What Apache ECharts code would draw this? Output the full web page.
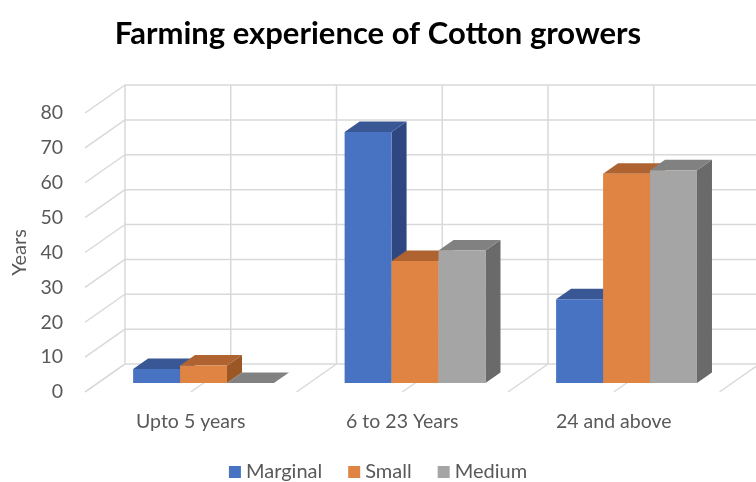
<!DOCTYPE html>
<html>
<head>
<meta charset="utf-8">
<style>
  html, body { margin: 0; padding: 0; background: #ffffff; }
  #chart { width: 756px; height: 482px; }
</style>
<script src="https://cdn.jsdelivr.net/npm/echarts@6/dist/echarts.min.js"></script>
</head>
<body>
<div id="chart"></div>
<script>
// Farming experience of cotton growers, by farm size class
const categories = ['Upto 5 years', '6 to 23 Years', '24 and above'];
const seriesNames = ['Marginal', 'Small', 'Medium'];
const marginal = [4, 72, 24];
const small = [5, 35, 60];
const medium = [0, 38, 61];
const yTicks = [0, 10, 20, 30, 40, 50, 60, 70, 80];

// Face colours for the pseudo-3D columns: front, top, side
const palette = [
  { front: '#4872C2', top: '#3A5795', side: '#2E4781' },
  { front: '#E08444', top: '#AE6330', side: '#9C5726' },
  { front: '#A5A5A5', top: '#818181', side: '#6A6A6A' }
];

// Oblique projection: full floor depth, in pixels
const DEPTH_X = 40;
const DEPTH_Y = -28;
const BAR_FRONT = 0.32;   // depth fraction where column fronts sit
const BAR_DEPTH = 0.375;  // depth fraction taken by a column
const BAR_SHARE = 0.222;  // share of a category band per column
const GRID_COLOR = '#D9D9D9';
const FONT = 'Lato, "Open Sans", sans-serif';

const chart = echarts.init(document.getElementById('chart'));

function line(x1, y1, x2, y2) {
  return {
    type: 'line',
    shape: { x1: x1, y1: y1, x2: x2, y2: y2 },
    style: { stroke: GRID_COLOR, lineWidth: 1.5 }
  };
}

// Side wall diagonals and back wall horizontals, one per value tick
function renderValueGrid(params, api) {
  const v = api.value(0);
  const left = api.coord([0, v]);
  const band = api.size([1, 0])[0];
  const x0 = left[0] - band / 2;
  const xEnd = x0 + band * categories.length;
  return {
    type: 'group',
    children: [
      line(x0, left[1], x0 + DEPTH_X, left[1] + DEPTH_Y),
      line(x0 + DEPTH_X, left[1] + DEPTH_Y, xEnd + DEPTH_X, left[1] + DEPTH_Y)
    ]
  };
}

// Back wall verticals and floor diagonals at band edges and centres
function renderCategoryGrid(params, api) {
  const i = api.value(0);
  const base = api.coord([i, 0]);
  const top = api.coord([i, yTicks[yTicks.length - 1]]);
  const band = api.size([1, 0])[0];
  const xs = [base[0] - band / 2, base[0]];
  if (i === categories.length - 1) xs.push(base[0] + band / 2);
  const children = [];
  xs.forEach(function (x) {
    children.push(line(x + DEPTH_X, base[1] + DEPTH_Y, x + DEPTH_X, top[1] + DEPTH_Y));
    children.push(line(x, base[1], x + DEPTH_X, base[1] + DEPTH_Y));
  });
  return { type: 'group', children: children };
}

function makeColumnRenderer(k) {
  const col = palette[k];
  return function (params, api) {
    const i = api.value(0);
    const base = api.coord([i, 0]);
    const peak = api.coord([i, api.value(1)]);
    const band = api.size([1, 0])[0];
    const w = band * BAR_SHARE;
    const fx = DEPTH_X * BAR_FRONT, fy = DEPTH_Y * BAR_FRONT;
    const dx = DEPTH_X * BAR_DEPTH, dy = DEPTH_Y * BAR_DEPTH;
    const x0 = base[0] - 1.5 * w + k * w + fx;
    const x1 = x0 + w;
    const yb = base[1] + fy;
    const yt = peak[1] + fy;
    return {
      type: 'group',
      children: [
        {
          type: 'polygon',
          shape: { points: [[x1, yt], [x1 + dx, yt + dy], [x1 + dx, yb + dy], [x1, yb]] },
          style: { fill: col.side }
        },
        {
          type: 'polygon',
          shape: { points: [[x0, yt], [x1, yt], [x1 + dx, yt + dy], [x0 + dx, yt + dy]] },
          style: { fill: col.top }
        },
        {
          type: 'rect',
          shape: { x: x0, y: yt, width: w, height: yb - yt },
          style: { fill: col.front }
        }
      ]
    };
  };
}

const values = [marginal, small, medium];

const columnSeries = seriesNames.map(function (name, k) {
  return {
    name: name,
    type: 'custom',
    renderItem: makeColumnRenderer(k),
    itemStyle: { color: palette[k].front },
    encode: { x: 0, y: 1 },
    data: values[k].map(function (v, i) { return [i, v]; }),
    z: 3 + k
  };
});

const option = {
  animation: false,
  backgroundColor: '#ffffff',
  color: palette.map(function (p) { return p.front; }),
  title: {
    text: 'Farming experience of Cotton growers',
    left: 'center',
    top: 13,
    textStyle: { fontFamily: FONT, fontWeight: 'bold', fontSize: 31, color: '#000000' }
  },
  legend: {
    data: seriesNames,
    top: 457,
    left: 'center',
    icon: 'rect',
    itemWidth: 12,
    itemHeight: 12,
    itemGap: 26,
    textStyle: { fontFamily: FONT, fontSize: 20, color: '#595959' }
  },
  grid: { left: 85, top: 113, width: 634.5, height: 279 },
  xAxis: {
    type: 'category',
    data: categories,
    axisLine: { show: false },
    axisTick: { show: false },
    splitLine: { show: false },
    axisLabel: { margin: 20, fontFamily: FONT, fontSize: 19.5, color: '#595959' }
  },
  yAxis: {
    type: 'value',
    min: 0,
    max: 80,
    interval: 10,
    name: 'Years',
    nameLocation: 'middle',
    nameGap: 53,
    nameTextStyle: { fontFamily: FONT, fontSize: 20, color: '#595959' },
    axisLine: { show: false },
    axisTick: { show: false },
    splitLine: { show: false },
    axisLabel: { margin: 22, fontFamily: FONT, fontSize: 19.5, color: '#595959' }
  },
  series: [
    {
      type: 'custom',
      renderItem: renderValueGrid,
      encode: { y: 0 },
      data: yTicks.map(function (v) { return [v]; }),
      silent: true,
      z: 1
    },
    {
      type: 'custom',
      renderItem: renderCategoryGrid,
      encode: { x: 0 },
      data: categories.map(function (c, i) { return [i]; }),
      silent: true,
      z: 1
    }
  ].concat(columnSeries)
};

chart.setOption(option);
</script>
</body>
</html>
